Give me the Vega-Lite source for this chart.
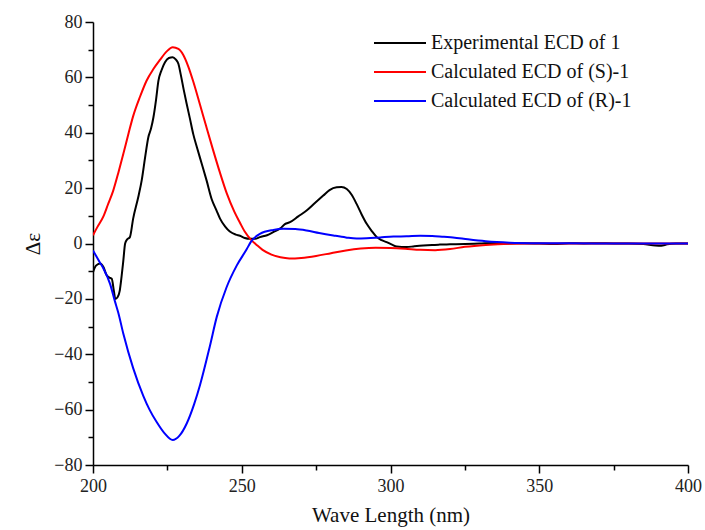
{
  "$schema": "https://vega.github.io/schema/vega-lite/v6.json",
  "width": 595,
  "height": 443,
  "autosize": {"type": "none"},
  "padding": {"left": 93, "top": 22, "right": 17, "bottom": 65},
  "background": "white",
  "config": {
    "view": {"stroke": null},
    "font": "Liberation Serif",
    "axis": {"grid": false, "domainColor": "#000", "domainWidth": 1.5, "tickColor": "#000", "tickWidth": 1.5, "labelFont": "Liberation Serif", "labelFontSize": 18, "labelColor": "#222", "titleFont": "Liberation Serif", "titleFontWeight": "normal", "titleColor": "#111", "titleFontSize": 21}
  },
  "datasets": {
    "curves": [
      {"s": "Experimental ECD of 1", "wl": 200, "v": -10.4},
      {"s": "Experimental ECD of 1", "wl": 201, "v": -8},
      {"s": "Experimental ECD of 1", "wl": 202.4, "v": -7.2},
      {"s": "Experimental ECD of 1", "wl": 203.5, "v": -8.5},
      {"s": "Experimental ECD of 1", "wl": 204.6, "v": -11.5},
      {"s": "Experimental ECD of 1", "wl": 205.5, "v": -12.3},
      {"s": "Experimental ECD of 1", "wl": 206.3, "v": -12.7},
      {"s": "Experimental ECD of 1", "wl": 207, "v": -17},
      {"s": "Experimental ECD of 1", "wl": 207.5, "v": -20},
      {"s": "Experimental ECD of 1", "wl": 208.2, "v": -19.5},
      {"s": "Experimental ECD of 1", "wl": 209, "v": -17},
      {"s": "Experimental ECD of 1", "wl": 209.6, "v": -12},
      {"s": "Experimental ECD of 1", "wl": 210.2, "v": -6.1},
      {"s": "Experimental ECD of 1", "wl": 210.8, "v": 0},
      {"s": "Experimental ECD of 1", "wl": 211.5, "v": 1.5},
      {"s": "Experimental ECD of 1", "wl": 212.4, "v": 2.3},
      {"s": "Experimental ECD of 1", "wl": 213.5, "v": 9},
      {"s": "Experimental ECD of 1", "wl": 215.2, "v": 16.7},
      {"s": "Experimental ECD of 1", "wl": 216.4, "v": 23},
      {"s": "Experimental ECD of 1", "wl": 217.5, "v": 31},
      {"s": "Experimental ECD of 1", "wl": 218.6, "v": 38.4},
      {"s": "Experimental ECD of 1", "wl": 219.5, "v": 41.5},
      {"s": "Experimental ECD of 1", "wl": 220.3, "v": 45.5},
      {"s": "Experimental ECD of 1", "wl": 221.2, "v": 52},
      {"s": "Experimental ECD of 1", "wl": 222, "v": 58.8},
      {"s": "Experimental ECD of 1", "wl": 223, "v": 62.5},
      {"s": "Experimental ECD of 1", "wl": 224.2, "v": 65.5},
      {"s": "Experimental ECD of 1", "wl": 225.5, "v": 67},
      {"s": "Experimental ECD of 1", "wl": 226.8, "v": 67.3},
      {"s": "Experimental ECD of 1", "wl": 227.8, "v": 66.5},
      {"s": "Experimental ECD of 1", "wl": 228.7, "v": 64.9},
      {"s": "Experimental ECD of 1", "wl": 229.5, "v": 61},
      {"s": "Experimental ECD of 1", "wl": 230.5, "v": 55.5},
      {"s": "Experimental ECD of 1", "wl": 231.5, "v": 50.4},
      {"s": "Experimental ECD of 1", "wl": 232.6, "v": 45},
      {"s": "Experimental ECD of 1", "wl": 233.7, "v": 39.5},
      {"s": "Experimental ECD of 1", "wl": 235, "v": 34.5},
      {"s": "Experimental ECD of 1", "wl": 236.5, "v": 29},
      {"s": "Experimental ECD of 1", "wl": 238.2, "v": 22.7},
      {"s": "Experimental ECD of 1", "wl": 239.9, "v": 16},
      {"s": "Experimental ECD of 1", "wl": 241.5, "v": 12},
      {"s": "Experimental ECD of 1", "wl": 242.7, "v": 9},
      {"s": "Experimental ECD of 1", "wl": 244.5, "v": 6},
      {"s": "Experimental ECD of 1", "wl": 246, "v": 4.3},
      {"s": "Experimental ECD of 1", "wl": 248, "v": 3.2},
      {"s": "Experimental ECD of 1", "wl": 249.4, "v": 2.8},
      {"s": "Experimental ECD of 1", "wl": 251, "v": 2},
      {"s": "Experimental ECD of 1", "wl": 252.8, "v": 1.7},
      {"s": "Experimental ECD of 1", "wl": 254.5, "v": 1.7},
      {"s": "Experimental ECD of 1", "wl": 256.1, "v": 2.3},
      {"s": "Experimental ECD of 1", "wl": 258.5, "v": 3},
      {"s": "Experimental ECD of 1", "wl": 260.6, "v": 4.1},
      {"s": "Experimental ECD of 1", "wl": 263, "v": 5.5},
      {"s": "Experimental ECD of 1", "wl": 264.5, "v": 7},
      {"s": "Experimental ECD of 1", "wl": 266.2, "v": 7.7},
      {"s": "Experimental ECD of 1", "wl": 269, "v": 9.8},
      {"s": "Experimental ECD of 1", "wl": 271.8, "v": 11.9},
      {"s": "Experimental ECD of 1", "wl": 274.5, "v": 14.5},
      {"s": "Experimental ECD of 1", "wl": 277.4, "v": 17.3},
      {"s": "Experimental ECD of 1", "wl": 279.5, "v": 19.3},
      {"s": "Experimental ECD of 1", "wl": 281.9, "v": 20.3},
      {"s": "Experimental ECD of 1", "wl": 283.5, "v": 20.4},
      {"s": "Experimental ECD of 1", "wl": 285.3, "v": 19.7},
      {"s": "Experimental ECD of 1", "wl": 287, "v": 17.5},
      {"s": "Experimental ECD of 1", "wl": 288.6, "v": 14.3},
      {"s": "Experimental ECD of 1", "wl": 290.3, "v": 10.5},
      {"s": "Experimental ECD of 1", "wl": 292, "v": 7.1},
      {"s": "Experimental ECD of 1", "wl": 293.7, "v": 4.5},
      {"s": "Experimental ECD of 1", "wl": 295.4, "v": 2.3},
      {"s": "Experimental ECD of 1", "wl": 297, "v": 1.2},
      {"s": "Experimental ECD of 1", "wl": 298.7, "v": 0.5},
      {"s": "Experimental ECD of 1", "wl": 300.5, "v": -0.4},
      {"s": "Experimental ECD of 1", "wl": 302.1, "v": -1.1},
      {"s": "Experimental ECD of 1", "wl": 305.4, "v": -1.3},
      {"s": "Experimental ECD of 1", "wl": 308, "v": -1},
      {"s": "Experimental ECD of 1", "wl": 311, "v": -0.7},
      {"s": "Experimental ECD of 1", "wl": 314, "v": -0.5},
      {"s": "Experimental ECD of 1", "wl": 316.6, "v": -0.4},
      {"s": "Experimental ECD of 1", "wl": 320, "v": -0.3},
      {"s": "Experimental ECD of 1", "wl": 325, "v": -0.2},
      {"s": "Experimental ECD of 1", "wl": 330, "v": 0},
      {"s": "Experimental ECD of 1", "wl": 335, "v": 0.2},
      {"s": "Experimental ECD of 1", "wl": 340, "v": 0},
      {"s": "Experimental ECD of 1", "wl": 345, "v": 0.1},
      {"s": "Experimental ECD of 1", "wl": 350, "v": 0},
      {"s": "Experimental ECD of 1", "wl": 355, "v": -0.2},
      {"s": "Experimental ECD of 1", "wl": 360, "v": 0.1},
      {"s": "Experimental ECD of 1", "wl": 365, "v": 0},
      {"s": "Experimental ECD of 1", "wl": 370, "v": 0.1},
      {"s": "Experimental ECD of 1", "wl": 375, "v": 0},
      {"s": "Experimental ECD of 1", "wl": 380, "v": 0},
      {"s": "Experimental ECD of 1", "wl": 385, "v": -0.2},
      {"s": "Experimental ECD of 1", "wl": 389, "v": -0.7},
      {"s": "Experimental ECD of 1", "wl": 391, "v": -0.8},
      {"s": "Experimental ECD of 1", "wl": 393, "v": -0.3},
      {"s": "Experimental ECD of 1", "wl": 396, "v": 0},
      {"s": "Experimental ECD of 1", "wl": 400, "v": 0},

      {"s": "Calculated ECD of (S)-1", "wl": 200, "v": 3},
      {"s": "Calculated ECD of (S)-1", "wl": 201.5, "v": 6},
      {"s": "Calculated ECD of (S)-1", "wl": 203.5, "v": 9.8},
      {"s": "Calculated ECD of (S)-1", "wl": 205, "v": 14},
      {"s": "Calculated ECD of (S)-1", "wl": 206.8, "v": 19.1},
      {"s": "Calculated ECD of (S)-1", "wl": 208.5, "v": 25.5},
      {"s": "Calculated ECD of (S)-1", "wl": 210.2, "v": 32.4},
      {"s": "Calculated ECD of (S)-1", "wl": 212, "v": 40},
      {"s": "Calculated ECD of (S)-1", "wl": 213.5, "v": 46},
      {"s": "Calculated ECD of (S)-1", "wl": 215.8, "v": 53},
      {"s": "Calculated ECD of (S)-1", "wl": 218, "v": 58.8},
      {"s": "Calculated ECD of (S)-1", "wl": 220.3, "v": 63},
      {"s": "Calculated ECD of (S)-1", "wl": 222.5, "v": 66.3},
      {"s": "Calculated ECD of (S)-1", "wl": 224.7, "v": 69.3},
      {"s": "Calculated ECD of (S)-1", "wl": 226.8, "v": 70.9},
      {"s": "Calculated ECD of (S)-1", "wl": 228.7, "v": 70.3},
      {"s": "Calculated ECD of (S)-1", "wl": 230.4, "v": 68},
      {"s": "Calculated ECD of (S)-1", "wl": 232, "v": 64},
      {"s": "Calculated ECD of (S)-1", "wl": 233.7, "v": 58.5},
      {"s": "Calculated ECD of (S)-1", "wl": 236, "v": 50},
      {"s": "Calculated ECD of (S)-1", "wl": 238, "v": 42.5},
      {"s": "Calculated ECD of (S)-1", "wl": 240.3, "v": 34},
      {"s": "Calculated ECD of (S)-1", "wl": 242.7, "v": 25.5},
      {"s": "Calculated ECD of (S)-1", "wl": 245, "v": 18},
      {"s": "Calculated ECD of (S)-1", "wl": 247.5, "v": 11.5},
      {"s": "Calculated ECD of (S)-1", "wl": 249.4, "v": 7.5},
      {"s": "Calculated ECD of (S)-1", "wl": 251, "v": 4.3},
      {"s": "Calculated ECD of (S)-1", "wl": 253, "v": 1.5},
      {"s": "Calculated ECD of (S)-1", "wl": 255, "v": -0.5},
      {"s": "Calculated ECD of (S)-1", "wl": 257, "v": -2.3},
      {"s": "Calculated ECD of (S)-1", "wl": 260, "v": -4},
      {"s": "Calculated ECD of (S)-1", "wl": 263, "v": -5},
      {"s": "Calculated ECD of (S)-1", "wl": 266, "v": -5.4},
      {"s": "Calculated ECD of (S)-1", "wl": 270, "v": -5.2},
      {"s": "Calculated ECD of (S)-1", "wl": 275, "v": -4.5},
      {"s": "Calculated ECD of (S)-1", "wl": 280, "v": -3.5},
      {"s": "Calculated ECD of (S)-1", "wl": 285, "v": -2.5},
      {"s": "Calculated ECD of (S)-1", "wl": 290, "v": -1.8},
      {"s": "Calculated ECD of (S)-1", "wl": 295, "v": -1.5},
      {"s": "Calculated ECD of (S)-1", "wl": 300, "v": -1.6},
      {"s": "Calculated ECD of (S)-1", "wl": 305, "v": -1.9},
      {"s": "Calculated ECD of (S)-1", "wl": 310, "v": -2.3},
      {"s": "Calculated ECD of (S)-1", "wl": 315, "v": -2.4},
      {"s": "Calculated ECD of (S)-1", "wl": 320, "v": -2},
      {"s": "Calculated ECD of (S)-1", "wl": 325, "v": -1.2},
      {"s": "Calculated ECD of (S)-1", "wl": 332, "v": -0.5},
      {"s": "Calculated ECD of (S)-1", "wl": 340, "v": -0.1},
      {"s": "Calculated ECD of (S)-1", "wl": 350, "v": 0},
      {"s": "Calculated ECD of (S)-1", "wl": 360, "v": 0},
      {"s": "Calculated ECD of (S)-1", "wl": 380, "v": 0},
      {"s": "Calculated ECD of (S)-1", "wl": 400, "v": 0},

      {"s": "Calculated ECD of (R)-1", "wl": 200, "v": -2.5},
      {"s": "Calculated ECD of (R)-1", "wl": 202.4, "v": -7},
      {"s": "Calculated ECD of (R)-1", "wl": 203.5, "v": -9},
      {"s": "Calculated ECD of (R)-1", "wl": 205.7, "v": -14.5},
      {"s": "Calculated ECD of (R)-1", "wl": 207.4, "v": -21},
      {"s": "Calculated ECD of (R)-1", "wl": 208.5, "v": -25},
      {"s": "Calculated ECD of (R)-1", "wl": 210.2, "v": -32.6},
      {"s": "Calculated ECD of (R)-1", "wl": 213.5, "v": -45},
      {"s": "Calculated ECD of (R)-1", "wl": 216.9, "v": -55},
      {"s": "Calculated ECD of (R)-1", "wl": 219, "v": -60},
      {"s": "Calculated ECD of (R)-1", "wl": 221.4, "v": -64.5},
      {"s": "Calculated ECD of (R)-1", "wl": 224, "v": -68.5},
      {"s": "Calculated ECD of (R)-1", "wl": 226.8, "v": -71},
      {"s": "Calculated ECD of (R)-1", "wl": 229, "v": -69.5},
      {"s": "Calculated ECD of (R)-1", "wl": 231.5, "v": -65},
      {"s": "Calculated ECD of (R)-1", "wl": 234, "v": -58},
      {"s": "Calculated ECD of (R)-1", "wl": 236, "v": -51},
      {"s": "Calculated ECD of (R)-1", "wl": 239.3, "v": -37},
      {"s": "Calculated ECD of (R)-1", "wl": 241.6, "v": -26.5},
      {"s": "Calculated ECD of (R)-1", "wl": 244.9, "v": -15.8},
      {"s": "Calculated ECD of (R)-1", "wl": 248.3, "v": -8},
      {"s": "Calculated ECD of (R)-1", "wl": 251.7, "v": -2},
      {"s": "Calculated ECD of (R)-1", "wl": 253, "v": 0.5},
      {"s": "Calculated ECD of (R)-1", "wl": 256.1, "v": 3.5},
      {"s": "Calculated ECD of (R)-1", "wl": 260.6, "v": 4.9},
      {"s": "Calculated ECD of (R)-1", "wl": 264, "v": 5.3},
      {"s": "Calculated ECD of (R)-1", "wl": 268, "v": 5.2},
      {"s": "Calculated ECD of (R)-1", "wl": 271.8, "v": 4.7},
      {"s": "Calculated ECD of (R)-1", "wl": 276, "v": 3.8},
      {"s": "Calculated ECD of (R)-1", "wl": 280.8, "v": 2.9},
      {"s": "Calculated ECD of (R)-1", "wl": 285, "v": 2.2},
      {"s": "Calculated ECD of (R)-1", "wl": 288.6, "v": 1.8},
      {"s": "Calculated ECD of (R)-1", "wl": 292, "v": 1.9},
      {"s": "Calculated ECD of (R)-1", "wl": 296.5, "v": 2.2},
      {"s": "Calculated ECD of (R)-1", "wl": 301, "v": 2.5},
      {"s": "Calculated ECD of (R)-1", "wl": 305.4, "v": 2.6},
      {"s": "Calculated ECD of (R)-1", "wl": 310, "v": 2.8},
      {"s": "Calculated ECD of (R)-1", "wl": 314, "v": 2.7},
      {"s": "Calculated ECD of (R)-1", "wl": 318, "v": 2.4},
      {"s": "Calculated ECD of (R)-1", "wl": 321, "v": 2.2},
      {"s": "Calculated ECD of (R)-1", "wl": 326, "v": 1.5},
      {"s": "Calculated ECD of (R)-1", "wl": 332, "v": 0.8},
      {"s": "Calculated ECD of (R)-1", "wl": 340, "v": 0.3},
      {"s": "Calculated ECD of (R)-1", "wl": 350, "v": 0.1},
      {"s": "Calculated ECD of (R)-1", "wl": 360, "v": 0.05},
      {"s": "Calculated ECD of (R)-1", "wl": 380, "v": 0},
      {"s": "Calculated ECD of (R)-1", "wl": 400, "v": 0}
    ]
  },
  "data": {"name": "curves"},
  "mark": {"type": "line", "strokeWidth": 2, "interpolate": "monotone", "clip": true},
  "encoding": {
    "x": {
      "field": "wl", "type": "quantitative",
      "scale": {"domain": [200, 400], "nice": false, "zero": false},
      "axis": {
        "title": "Wave Length (nm)",
        "values": [200, 225, 250, 275, 300, 325, 350, 375, 400],
        "labelExpr": "datum.value % 50 === 0 ? datum.label : ''",
        "tickSize": {"condition": {"test": "datum.value % 50 === 0", "value": 8}, "value": 5},
        "labelPadding": 4,
        "titlePadding": 9,
        "labelFlush": false,
        "labelOverlap": false
      }
    },
    "y": {
      "field": "v", "type": "quantitative",
      "scale": {"domain": [-80, 80], "nice": false},
      "axis": {
        "title": "Δε",
        "values": [-80, -70, -60, -50, -40, -30, -20, -10, 0, 10, 20, 30, 40, 50, 60, 70, 80],
        "labelExpr": "datum.value % 20 === 0 ? datum.label : ''",
        "tickSize": {"condition": {"test": "datum.value % 20 === 0", "value": 8}, "value": 5},
        "labelPadding": 3,
        "titlePadding": 10,
        "labelOverlap": false,
        "labelFlush": false
      }
    },
    "color": {
      "field": "s", "type": "nominal",
      "scale": {"domain": ["Experimental ECD of 1", "Calculated ECD of (S)-1", "Calculated ECD of (R)-1"], "range": ["#000000", "#ff0000", "#0000ff"]},
      "legend": {
        "title": null,
        "orient": "none",
        "legendX": 293,
        "legendY": 7,
        "symbolType": "M-2,0H2",
        "symbolSize": 676,
        "symbolStrokeWidth": 2,
        "symbolFillColor": "transparent",
        "labelFont": "Liberation Serif",
        "labelFontSize": 20,
        "labelColor": "#111",
        "labelLimit": 400,
        "rowPadding": 5,
        "labelOffset": 17
      }
    }
  }
}
